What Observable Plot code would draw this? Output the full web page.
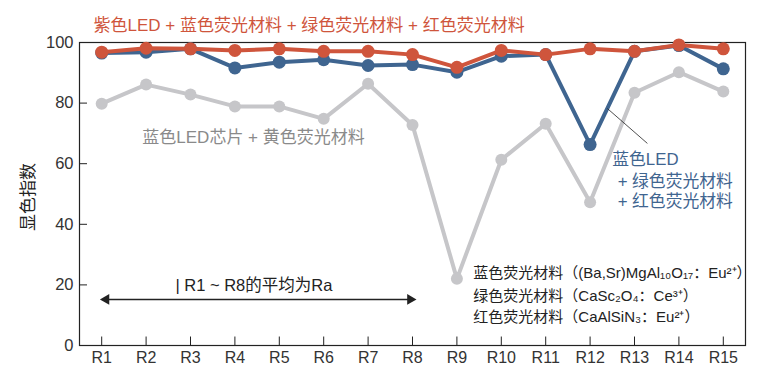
<!DOCTYPE html>
<html>
<head>
<meta charset="utf-8">
<script src="https://cdn.jsdelivr.net/npm/d3@7"></script>
<script src="https://cdn.jsdelivr.net/npm/@observablehq/plot@0.6"></script>
<style>
  html, body { margin: 0; padding: 0; background: #fff; }
</style>
</head>
<body>
<div id="chart"></div>
<script>
// ---- data ----
const categories = ["R1","R2","R3","R4","R5","R6","R7","R8","R9","R10","R11","R12","R13","R14","R15"];
const violetLED = [96.8, 98.1, 97.9, 97.4, 97.9, 97.1, 97.1, 96.0, 91.8, 97.4, 96.0, 97.9, 97.1, 99.2, 97.9];
const blueLEDGreenRed = [96.5, 96.8, 97.9, 91.6, 93.5, 94.3, 92.4, 92.7, 90.2, 95.5, 96.0, 66.3, 97.1, 99.0, 91.3];
const blueLEDYellow = [79.8, 86.1, 82.8, 78.9, 78.9, 74.8, 86.4, 72.8, 22.0, 61.3, 73.2, 47.3, 83.4, 90.2, 83.8];
const yTicks = [0, 20, 40, 60, 80, 100];

const titleText = "紫色LED + 蓝色荧光材料 + 绿色荧光材料 + 红色荧光材料";
const yellowLabel = "蓝色LED芯片 + 黄色荧光材料";
const blueLabel = ["蓝色LED", "+ 绿色荧光材料", "+ 红色荧光材料"];
const phosphorNotes = [
  "蓝色荧光材料（(Ba,Sr)MgAl₁₀O₁₇：Eu²⁺）",
  "绿色荧光材料（CaSc₂O₄：Ce³⁺）",
  "红色荧光材料（CaAlSiN₃：Eu²⁺）"
];
const raNote = "| R1 ~ R8的平均为Ra";
const yLabel = "显色指数";

// ---- build tables ----
const idx = categories.map((c, i) => i + 1);
const rows = (vals) => vals.map((v, i) => ({x: i + 1, y: v}));
const fmt = d => categories[d - 1];

const font = "'Liberation Sans', 'Noto Sans CJK SC', sans-serif";
const RED = "#cf553c", BLUE = "#3f6590", GRAY = "#c6c6c9";

const chart = Plot.plot({
  width: 761,
  height: 381,
  marginLeft: 79,
  marginRight: 16,
  marginTop: 42,
  marginBottom: 36,
  style: {fontFamily: font, fontSize: "16px", color: "#222", background: "#fff"},
  x: {type: "linear", domain: [0.5, 15.5], axis: null},
  y: {domain: [0, 100], axis: null},
  marks: [
    Plot.frame({stroke: "#222", strokeWidth: 1.2}),
    // inward ticks
    Plot.ruleX(idx, {x: d => d, y1: 0, y2: 2.8, stroke: "#222", strokeWidth: 1}),
    Plot.ruleY(yTicks, {y: d => d, x1: 0.5, x2: 0.5 + 8 / 44.4, stroke: "#222", strokeWidth: 1}),
    Plot.axisX(idx, {tickFormat: fmt, tickSize: 0, tickPadding: 6, fontSize: 16, fill: "#333", label: null}),
    Plot.axisY(yTicks, {tickSize: 0, tickPadding: 6, fontSize: 16.5, fill: "#333", label: null}),
    // y label
    Plot.text([yLabel], {x: -0.65, y: 49, rotate: -90, fontSize: 17, fill: "#222"}),
    // series
    Plot.line(rows(blueLEDYellow), {x: "x", y: "y", stroke: GRAY, strokeWidth: 4}),
    Plot.dot(rows(blueLEDYellow), {x: "x", y: "y", fill: GRAY, r: 6}),
    Plot.line(rows(blueLEDGreenRed), {x: "x", y: "y", stroke: BLUE, strokeWidth: 4}),
    Plot.dot(rows(blueLEDGreenRed), {x: "x", y: "y", fill: BLUE, r: 6.5}),
    Plot.line(rows(violetLED), {x: "x", y: "y", stroke: RED, strokeWidth: 4}),
    Plot.dot(rows(violetLED), {x: "x", y: "y", fill: RED, r: 6.5}),
    // title
    Plot.text([titleText], {x: 0.815, y: 105.6, textAnchor: "start", fontSize: 17, fill: RED}),
    // yellow label
    Plot.text([yellowLabel], {x: 4.42, y: 68.6, textAnchor: "middle", fontSize: 17, fill: "#8a8a8a"}),
    // blue label + leader
    Plot.link([{x1: 12.39, y1: 78.2, x2: 13.29, y2: 66.7}], {x1: "x1", y1: "y1", x2: "x2", y2: "y2", stroke: "#222", strokeWidth: 0.8}),
    Plot.text(blueLabel, {x: [12.5, 12.62, 12.62], y: [61.4, 54.1, 47.5], text: d => d, textAnchor: "start", fontSize: 16.8, fill: BLUE}),
    // phosphor notes
    Plot.text(phosphorNotes, {x: 9.37, y: [23.8, 16.2, 9.2], text: d => d, textAnchor: "start", fontSize: 15, fill: "#222"}),
    // Ra arrow
    Plot.text([raNote], {x: 2.66, y: 19.8, textAnchor: "start", fontSize: 16.5, fill: "#222"}),
    Plot.ruleY([15.2], {x1: 1.1, x2: 7.95, stroke: "#222", strokeWidth: 1.5}),
    Plot.dot([{x: 1.1, a: -90}, {x: 7.95, a: 90}], {x: "x", y: 15.2, symbol: "triangle", rotate: "a", r: 4, fill: "#222", stroke: "none"})
  ]
});
document.getElementById("chart").appendChild(chart);
</script>
</body>
</html>
